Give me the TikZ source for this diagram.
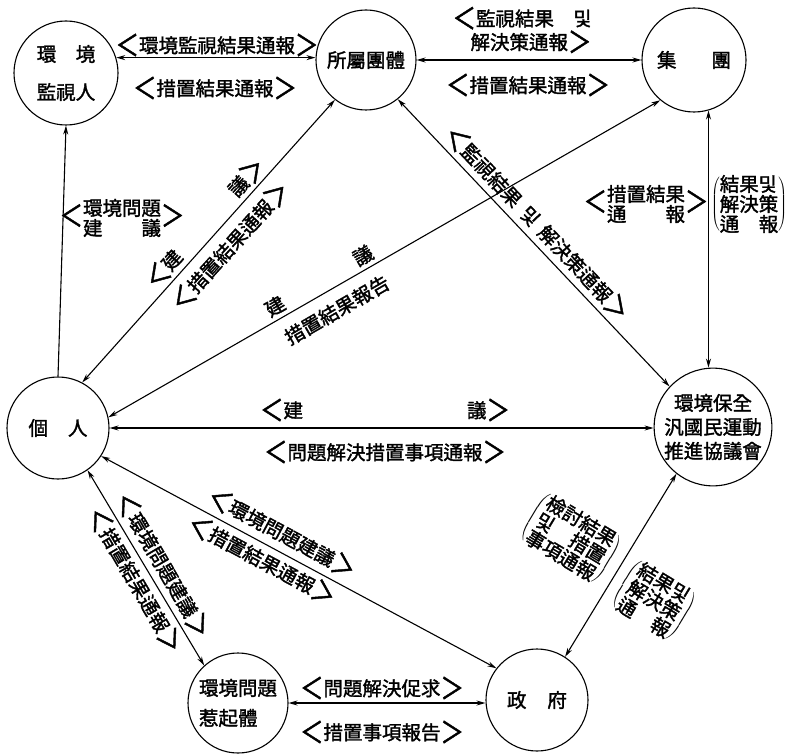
\documentclass[tikz,border=0pt]{standalone}
\usepackage{fontspec}
\setmainfont{Noto Sans CJK KR}[FakeBold=1.6]
\usetikzlibrary{arrows.meta}
\newcommand{\lbr}{\raisebox{-0.17em}{\scalebox{1.2}[1.5]{＜}}}
\newcommand{\rbr}{\raisebox{-0.17em}{\scalebox{1.2}[1.5]{＞}}}
\newcommand{\angtwo}[2]{\lbr$\vcenter{\hbox{#1}\hbox{#2}}$\rbr}
\newcommand{\parthree}[3]{$\left(\vcenter{\hbox{#1}\hbox{#2}\hbox{#3}}\right)$}

\begin{document}
\begin{tikzpicture}[x=1pt,y=-1pt,>={Stealth[length=9pt,width=5pt]},
    every node/.append style={font=\fontsize{19.5}{20}\selectfont},
    org/.style={draw,circle,line width=1.1pt,inner sep=0pt,minimum size=#1,align=center},
    conn/.style={<->,line width=1.1pt},
    lbl/.style={inner sep=1pt,align=center}]
      \useasboundingbox (0,0) rectangle (791,754);

      \node[org=104] (Monitor) at (66,73) {環\hspace{1em}境\\[18pt]監視人};
      \node[org=100] (Affiliation) at (366,60) {所屬團體};
      \node[org=104] (Group) at (694,60) {集\hspace{35pt}團};
      \node[org=102] (Person) at (58,428) {個\hspace{20pt}人};
      \node[org=113] (Council) at (713,427) {環境保全\\[4pt]汎國民運動\\[4pt]推進協議會};
      \node[org=100,align=left] (Polluter) at (238,703) {環境問題\\[10pt]惹起體};
      \node[org=102] (Government) at (537,700) {政\hspace{21pt}府};

      \draw [conn,->] (Person.north)--(Monitor.south);
      \draw [conn] (Monitor.17)--(Monitor.17 -| Affiliation.west);
      \draw [conn] (Affiliation.east)--(Group.west);
      \draw [conn] (Person.62)--(Affiliation.232);
      \draw [conn] (Person.12)--(Group.230);
      \draw [conn] (Affiliation.309)--(Council.137);
      \draw [conn] (Group.286)--(Group.286 |- Council.north);
      \draw [conn] (Person.east)--(Person.east -| Council.west);
      \draw [conn] (Person.305)--(Polluter.132);
      \draw [conn] (Person.327)--(Government.142);
      \draw [conn] (Council.232)--(Government.57);
      \draw [conn] (Polluter.east)--(Polluter.east -| Government.west);

      \node[lbl] (MonReport) at (217,45) {\lbr 環境監視結果通報\rbr};
      \node[lbl] (MonResult) at (215,88) {\lbr 措置結果通報\rbr};
      \node[lbl,align=right] (GrpReport) at (522,30) {\lbr 監視結果　및\\解決策通報\rbr};
      \node[lbl] (GrpResult) at (528,85) {\lbr 措置結果通報\rbr};
      \node[lbl] (MonSuggest) at (122,218) {\angtwo{環境問題}{\hbox to 4em{建\hfill 議}}};

      \node[lbl,rotate=48] (AffSuggest) at (205,223) {\lbr 建\hspace{80pt}議\rbr};
      \node[lbl,rotate=48] (AffResult) at (230,246) {\lbr 措置結果通報\rbr};
      \node[lbl,rotate=30] (GrpSuggest) at (319,281) {建\hspace{82pt}議};
      \node[lbl,rotate=30] (GrpResultB) at (337,310) {措置結果報告};
      \node[lbl,rotate=-46.6] (AffCouncil) at (537,223) {\lbr 監視結果\hspace{8pt}및\hspace{8pt}解決策通報\rbr};

      \node[lbl] (CncResult) at (646,204) {\angtwo{措置結果}{\hbox to 4em{通\hfill 報}}};
      \node[lbl] (CncReport) at (749,204) {\parthree{結果및}{解決策}{\hbox to 3em{通\hfill 報}}};
      \node[lbl] (PerSuggest) at (385,410) {\lbr 建\hspace{164pt}議\rbr};
      \node[lbl] (PerReport) at (385,452) {\lbr 問題解決措置事項通報\rbr};

      \node[lbl,rotate=-59.7] (PolSuggest) at (163,565) {\lbr 環境問題建議\rbr};
      \node[lbl,rotate=-59.7] (PolResult) at (135,580) {\lbr 措置結果通報\rbr};
      \node[lbl,rotate=-28.1] (GovSuggest) at (282,533) {\lbr 環境問題建議\rbr};
      \node[lbl,rotate=-28.1] (GovResult) at (262,560) {\lbr 措置結果通報\rbr};
      \node[lbl,rotate=-31] (GovReview) at (571,538) {\parthree{檢討結果}{\hbox to 4em{및\hfill 措置}}{事項通報}};
      \node[lbl,rotate=-31] (GovReport) at (654,600) {\parthree{結果및}{解決策}{\hbox to 3em{通\hfill 報}}};
      \node[lbl] (PolDemand) at (382,688) {\lbr 問題解決促求\rbr};
      \node[lbl] (PolReport) at (382,732) {\lbr 措置事項報告\rbr};
    \end{tikzpicture}
\end{document}
